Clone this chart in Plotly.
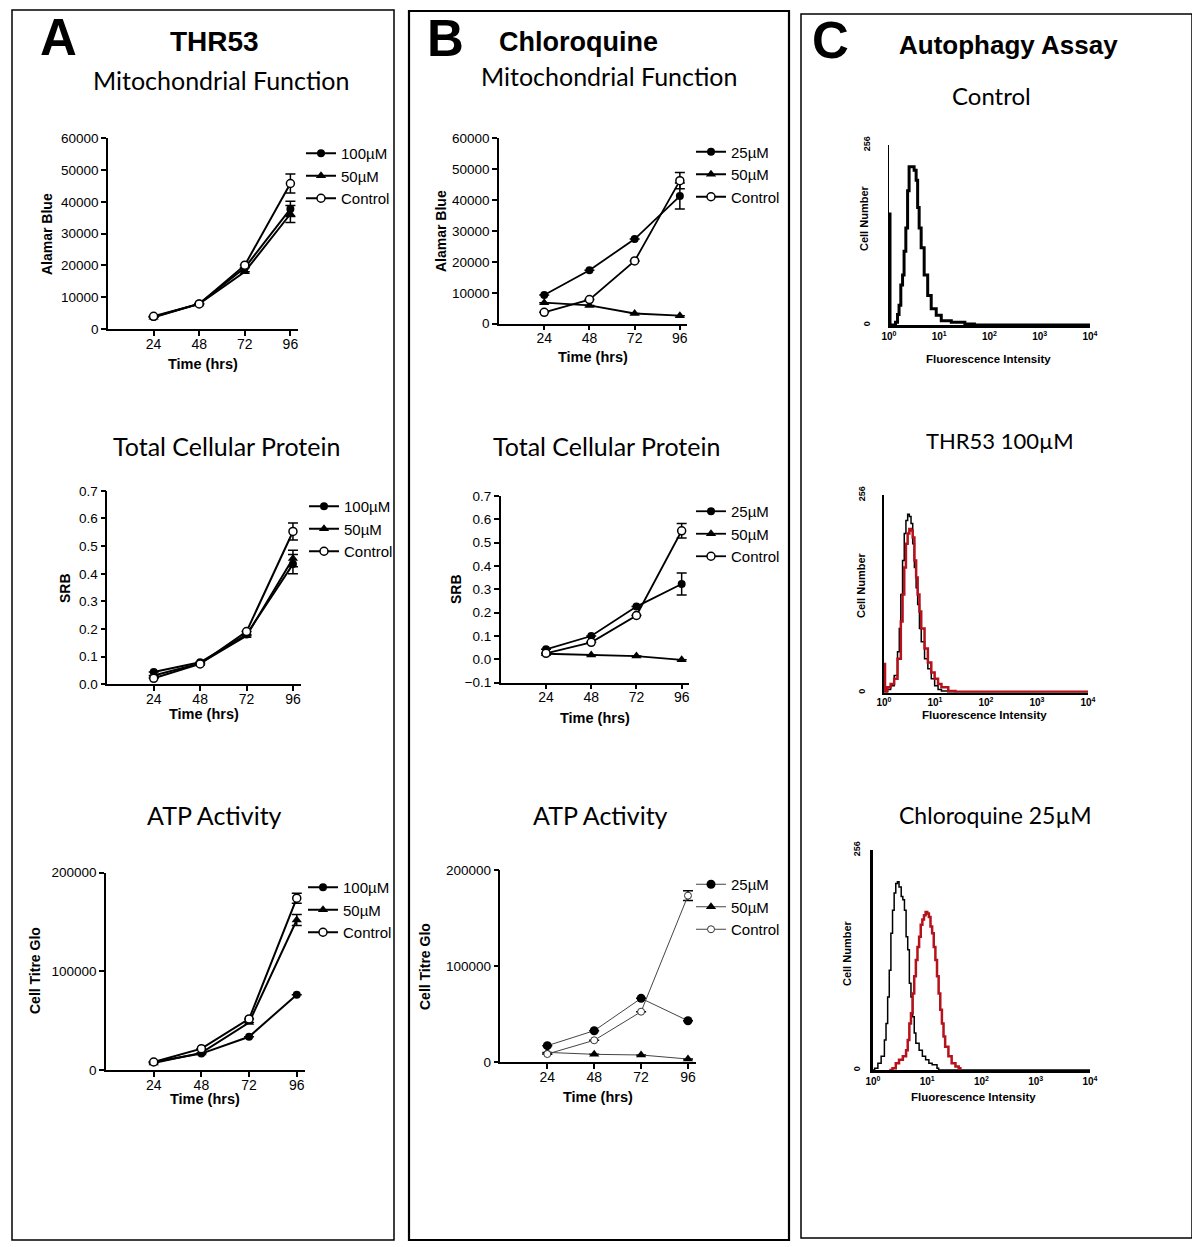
import plotly.graph_objects as go

W, H = 1200, 1247
ARIAL = "Liberation Sans, Arial, sans-serif"
CALIBRI = "Lato, Open Sans, sans-serif"
PAGE_OFFSET = 8  # the page places the figure 8 px in from the top-left corner

# ---------------- data ----------------
HOURS = [24, 48, 72, 96]
A_NAMES = ["100µM", "50µM", "Control"]
B_NAMES = ["25µM", "50µM", "Control"]

# Panel A : THR53
A_ALAMAR_100 = [3800, 8000, 19300, 37800]
A_ALAMAR_50 = [3700, 7900, 18000, 36200]
A_ALAMAR_CTRL = [4000, 7900, 20100, 45800]
A_ALAMAR_100_ERR = [None, None, None, 2400]
A_ALAMAR_50_ERR = [None, None, None, 2700]
A_ALAMAR_CTRL_ERR = [None, None, None, 3000]

A_SRB_100 = [0.045, 0.080, 0.180, 0.435]
A_SRB_50 = [0.032, 0.076, 0.176, 0.455]
A_SRB_CTRL = [0.022, 0.074, 0.191, 0.553]
A_SRB_100_ERR = [None, None, None, 0.035]
A_SRB_50_ERR = [None, None, None, 0.030]
A_SRB_CTRL_ERR = [None, None, None, 0.031]

A_ATP_100 = [8500, 17000, 34000, 76500]
A_ATP_50 = [7500, 17700, 48300, 152000]
A_ATP_CTRL = [8500, 22000, 52000, 174000]
A_ATP_100_ERR = [None, None, None, None]
A_ATP_50_ERR = [None, None, None, 5500]
A_ATP_CTRL_ERR = [None, None, None, 5000]

# Panel B : Chloroquine
B_ALAMAR_25 = [9300, 17300, 27400, 41300]
B_ALAMAR_50 = [6800, 5900, 3300, 2600]
B_ALAMAR_CTRL = [3700, 7800, 20300, 46300]
B_ALAMAR_25_ERR = [None, None, None, 4200]
B_ALAMAR_50_ERR = [None, None, None, None]
B_ALAMAR_CTRL_ERR = [None, None, None, 2600]

B_SRB_25 = [0.043, 0.100, 0.226, 0.323]
B_SRB_50 = [0.024, 0.019, 0.014, -0.002]
B_SRB_CTRL = [0.026, 0.073, 0.188, 0.551]
B_SRB_25_ERR = [None, None, None, 0.047]
B_SRB_50_ERR = [None, None, None, None]
B_SRB_CTRL_ERR = [None, None, None, 0.031]

B_ATP_25 = [17000, 32600, 66300, 43000]
B_ATP_50 = [10000, 8000, 7300, 3100]
B_ATP_CTRL = [8300, 22600, 52400, 173300]
B_ATP_25_ERR = [None, None, None, None]
B_ATP_50_ERR = [None, None, None, None]
B_ATP_CTRL_ERR = [None, None, None, 5000]

# Panel C : flow cytometry histograms (log10 fluorescence, cell count)
C1_CTRL_LOG = [0.0, 0.0, 0.02, 0.13, 0.17, 0.20, 0.235, 0.27, 0.30, 0.335, 0.37, 0.40, 0.47, 0.50,
               0.54, 0.57, 0.60, 0.64, 0.70, 0.77, 0.84, 0.94, 1.04, 1.24, 1.51, 1.70, 4.0]
C1_CTRL_CNT = [0, 158, 0, 4, 15, 28, 57, 71, 105, 138, 191, 225, 225, 220,
               206, 167, 138, 110, 71, 42, 23, 14, 6, 4, 1.5, 0, 0]

C2_CTRL_LOG = [0.0, 0.0, 0.02, 0.066, 0.13, 0.2, 0.265, 0.3, 0.33, 0.364, 0.397, 0.43, 0.464, 0.497,
               0.53, 0.563, 0.596, 0.63, 0.66, 0.695, 0.73, 0.795, 0.86, 0.927, 0.993, 1.06, 1.126, 1.25, 4.0]
C2_CTRL_CNT = [0, 35, 0, 4, 9, 22, 53, 83, 127, 171, 206, 223, 231, 228,
               219, 193, 162, 136, 114, 83, 66, 44, 31, 18, 9, 4, 2, 0, 0]
C2_THR_LOG = [0.0, 0.0, 0.02, 0.066, 0.13, 0.2, 0.265, 0.33, 0.364, 0.397, 0.43, 0.464, 0.497, 0.53,
              0.563, 0.596, 0.63, 0.66, 0.695, 0.73, 0.795, 0.86, 0.927, 0.993, 1.06, 1.126, 1.26, 1.4, 4.0]
C2_THR_CNT = [0, 37, 0, 7, 11, 18, 44, 92, 127, 162, 193, 206, 212, 210,
              201, 171, 149, 127, 105, 83, 57, 39, 26, 18, 11, 7, 2, 1, 1]

C3_CTRL_LOG = [0.0, 0.03, 0.09, 0.15, 0.21, 0.24, 0.27, 0.30, 0.33, 0.36, 0.39, 0.42, 0.45, 0.48, 0.52,
               0.55, 0.58, 0.61, 0.64, 0.67, 0.70, 0.73, 0.76, 0.79, 0.85, 0.91, 0.97, 1.03, 1.09, 1.18,
               1.21, 4.0]
C3_CTRL_CNT = [0, 2, 8, 16, 35, 54, 85, 116, 159, 186, 206, 217, 219, 213, 202,
               198, 186, 155, 140, 101, 85, 62, 43, 31, 23, 16, 12, 8, 6, 2,
               0, 0]
C3_CQ_LOG = [0.30, 0.36, 0.42, 0.48, 0.55, 0.61, 0.64, 0.67, 0.70, 0.73, 0.76, 0.79, 0.82, 0.85, 0.88,
             0.91, 0.94, 0.97, 1.00, 1.03, 1.06, 1.09, 1.12, 1.15, 1.18, 1.21, 1.24, 1.27, 1.30, 1.33,
             1.39, 1.45, 1.52, 1.58, 1.61]
C3_CQ_CNT = [0, 2, 8, 12, 16, 23, 35, 54, 66, 89, 109, 128, 143, 155, 169,
             175, 180, 184, 182, 178, 167, 159, 143, 128, 109, 89, 70, 54, 39, 27,
             16, 8, 4, 2, 0]

DECADES = [0, 1, 2, 3, 4]
DECADE_TEXT = ["<b>10<sup>0</sup></b>", "<b>10<sup>1</sup></b>", "<b>10<sup>2</sup></b>",
               "<b>10<sup>3</sup></b>", "<b>10<sup>4</sup></b>"]
HIST_TICKS = [0, 256]
HIST_TICK_TEXT = ["<b>0</b>", "<b>256</b>"]
RED = "#B5121B"


def fx(p):
    return (p - PAGE_OFFSET) / W


def fy(p):
    return 1 - (p - PAGE_OFFSET) / H


def sfx(n):
    return "" if n == 1 else str(n)


fig = go.Figure()
layout = {}

MARKERS = [
    dict(symbol="circle", size=8, color="black"),
    dict(symbol="triangle-up", size=9, color="black"),
    dict(symbol="circle", size=8, color="white", line=dict(color="black", width=1.5)),
]


def line_panel(n, series, errs, names, legend, lw=2.0, lc="black", markers=MARKERS):
    for vals, err, name, mk in zip(series, errs, names, markers):
        fig.add_trace(go.Scatter(
            x=HOURS, y=vals, name=name, mode="lines+markers",
            line=dict(color=lc, width=lw), marker=mk,
            error_y=dict(type="data", array=err, visible=True, color="black", thickness=1.5, width=5),
            xaxis="x" + sfx(n), yaxis="y" + sfx(n), legend=legend, cliponaxis=False))


def line_axes(n, left, right, top, bottom, yrange, dtick, fmt):
    s = sfx(n)
    layout["xaxis" + s] = dict(
        domain=[fx(left), fx(right)], range=[0, 100], tickvals=HOURS, anchor="y" + s,
        ticks="outside", ticklen=5, tickwidth=1.5, tickcolor="black", ticklabelstandoff=-4,
        showline=True, linewidth=1.5, linecolor="black", showgrid=False, zeroline=False,
        automargin=False, tickfont=dict(family=ARIAL, size=14, color="black"))
    layout["yaxis" + s] = dict(
        domain=[fy(bottom), fy(top)], range=yrange, dtick=dtick, tick0=0, tickformat=fmt,
        anchor="x" + s, ticks="outside", ticklen=5, tickwidth=1.5, tickcolor="black",
        showline=True, linewidth=1.5, linecolor="black", showgrid=False, zeroline=False,
        automargin=False, tickfont=dict(family=ARIAL, size=13.5, color="black"))


def hist_axes(n, left, right, top, bottom, xlw, ylw, standoff):
    s = sfx(n)
    layout["xaxis" + s] = dict(
        domain=[fx(left), fx(right)], range=[0, 4], tickvals=DECADES, ticktext=DECADE_TEXT,
        anchor="y" + s, ticks="", showline=True, linewidth=xlw, linecolor="black",
        showgrid=False, zeroline=False, automargin=False,
        tickfont=dict(family=ARIAL, size=10, color="black"))
    layout["yaxis" + s] = dict(
        domain=[fy(bottom), fy(top)], range=[0, 256], tickvals=HIST_TICKS, ticktext=HIST_TICK_TEXT,
        tickangle=-90, anchor="x" + s, ticks="", showline=True, linewidth=ylw, linecolor="black",
        showgrid=False, zeroline=False, ticklabelstandoff=standoff, automargin=False,
        tickfont=dict(family=ARIAL, size=9, color="black"))


def hist_trace(n, xs, ys, color, width):
    s = sfx(n)
    fig.add_trace(go.Scatter(x=xs, y=ys, mode="lines", line=dict(color=color, width=width, shape="hv"),
                             showlegend=False, xaxis="x" + s, yaxis="y" + s, cliponaxis=False))


# ---- Panel A ----
line_panel(1, [A_ALAMAR_100, A_ALAMAR_50, A_ALAMAR_CTRL],
           [A_ALAMAR_100_ERR, A_ALAMAR_50_ERR, A_ALAMAR_CTRL_ERR], A_NAMES, "legend")
line_axes(1, 108, 298, 138.4, 329, [0, 60000], 10000, "d")

line_panel(2, [A_SRB_100, A_SRB_50, A_SRB_CTRL],
           [A_SRB_100_ERR, A_SRB_50_ERR, A_SRB_CTRL_ERR], A_NAMES, "legend2")
line_axes(2, 107.3, 300.7, 490.8, 684.4, [0, 0.7], 0.1, ".1f")

line_panel(3, [A_ATP_100, A_ATP_50, A_ATP_CTRL],
           [A_ATP_100_ERR, A_ATP_50_ERR, A_ATP_CTRL_ERR], A_NAMES, "legend3")
line_axes(3, 106, 304.7, 872.5, 1070.4, [0, 200000], 100000, "d")

# ---- Panel B ----
line_panel(4, [B_ALAMAR_25, B_ALAMAR_50, B_ALAMAR_CTRL],
           [B_ALAMAR_25_ERR, B_ALAMAR_50_ERR, B_ALAMAR_CTRL_ERR], B_NAMES, "legend4", lw=1.8)
line_axes(4, 499, 687.4, 138.3, 323.7, [0, 60000], 10000, "d")

line_panel(5, [B_SRB_25, B_SRB_50, B_SRB_CTRL],
           [B_SRB_25_ERR, B_SRB_50_ERR, B_SRB_CTRL_ERR], B_NAMES, "legend5", lw=1.8)
line_axes(5, 500.8, 689.2, 496, 682.7, [-0.1, 0.7], 0.1, ".1f")

THIN_MARKERS = [
    dict(symbol="circle", size=9, color="black"),
    dict(symbol="triangle-up", size=9, color="black"),
    dict(symbol="circle", size=7, color="white", line=dict(color="#333333", width=1)),
]
line_panel(6, [B_ATP_25, B_ATP_50, B_ATP_CTRL],
           [B_ATP_25_ERR, B_ATP_50_ERR, B_ATP_CTRL_ERR], B_NAMES, "legend6",
           lw=1.0, lc="#444444", markers=THIN_MARKERS)
line_axes(6, 500.4, 695.8, 870, 1062, [0, 200000], 100000, "d")

# ---- Panel C ----
hist_trace(7, C1_CTRL_LOG, C1_CTRL_CNT, "black", 3)
hist_axes(7, 889, 1090, 145, 325, 3, 1, 14)

hist_trace(8, C2_CTRL_LOG, C2_CTRL_CNT, "black", 1.5)
hist_trace(8, C2_THR_LOG, C2_THR_CNT, RED, 2.5)
hist_axes(8, 884, 1088, 495, 692.6, 1.5, 1.5, 14)

hist_trace(9, C3_CTRL_LOG, C3_CTRL_CNT, "black", 1.5)
hist_trace(9, C3_CQ_LOG, C3_CQ_CNT, RED, 2.5)
hist_axes(9, 873, 1090, 850, 1070, 3, 3, 6)


# ---- legends ----
def legend_at(xp, yp):
    return dict(x=fx(xp), y=fy(yp), xanchor="left", yanchor="top", bgcolor="rgba(0,0,0,0)",
                borderwidth=0, itemwidth=30, tracegroupgap=0, traceorder="normal",
                font=dict(family=ARIAL, size=15, color="black"))


layout["legend"] = legend_at(301, 137)
layout["legend2"] = legend_at(304, 490)
layout["legend3"] = legend_at(303, 871)
layout["legend4"] = legend_at(691, 135.5)
layout["legend5"] = legend_at(691, 495)
layout["legend6"] = legend_at(691, 868)

# ---- text ----
ann = []


def text(xp, yp, s, size, family=ARIAL, angle=0):
    ann.append(dict(x=fx(xp), y=fy(yp), xref="paper", yref="paper", text=s, showarrow=False,
                    xanchor="center", yanchor="middle", textangle=angle,
                    font=dict(family=family, size=size, color="black")))


text(58, 37, "<b>A</b>", 51)
text(445, 38, "<b>B</b>", 51)
text(830, 40, "<b>C</b>", 51)
text(215, 42, "<b>THR53</b>", 28)
text(578, 42, "<b>Chloroquine</b>", 27)
text(1009, 45, "<b>Autophagy Assay</b>", 26)

text(221, 80, "Mitochondrial Function", 25, CALIBRI)
text(609, 76, "Mitochondrial Function", 25, CALIBRI)
text(991, 95, "Control", 24, CALIBRI)
text(226, 446, "Total Cellular Protein", 25, CALIBRI)
text(606, 446, "Total Cellular Protein", 25, CALIBRI)
text(1000, 440, "THR53 100µM", 22, CALIBRI)
text(214, 815, "ATP Activity", 25, CALIBRI)
text(600, 815, "ATP Activity", 25, CALIBRI)
text(995, 815, "Chloroquine 25µM", 23, CALIBRI)

# axis titles
text(47, 234, "<b>Alamar Blue</b>", 14, angle=-90)
text(65, 588, "<b>SRB</b>", 14, angle=-90)
text(35, 971, "<b>Cell Titre Glo</b>", 14, angle=-90)
text(441, 231, "<b>Alamar Blue</b>", 14, angle=-90)
text(456, 589, "<b>SRB</b>", 14, angle=-90)
text(425, 966, "<b>Cell Titre Glo</b>", 14, angle=-90)
text(203, 364, "<b>Time (hrs)</b>", 14.5)
text(204, 714, "<b>Time (hrs)</b>", 14.5)
text(205, 1099, "<b>Time (hrs)</b>", 14.5)
text(593, 357, "<b>Time (hrs)</b>", 14.5)
text(595, 718, "<b>Time (hrs)</b>", 14.5)
text(598, 1097, "<b>Time (hrs)</b>", 14.5)

text(864, 218, "<b>Cell Number</b>", 11, angle=-90)
text(988, 359, "<b>Fluorescence Intensity</b>", 11.5)
text(861, 585, "<b>Cell Number</b>", 11, angle=-90)
text(984, 715, "<b>Fluorescence Intensity</b>", 11.5)
text(847, 953, "<b>Cell Number</b>", 11, angle=-90)
text(973, 1097, "<b>Fluorescence Intensity</b>", 11.5)

# ---- panel frames ----
shapes = []
for (x0, y0, x1, y1, w) in [(12, 10, 394, 1240, 1.5), (409, 11, 789, 1240, 2.2), (801, 14, 1192, 1238, 1.5)]:
    shapes.append(dict(type="rect", xref="paper", yref="paper", x0=fx(x0), x1=fx(x1), y0=fy(y1), y1=fy(y0),
                       line=dict(color="black", width=w)))

fig.update_layout(**layout)
fig.update_layout(
    width=W, height=H, margin=dict(l=0, r=0, t=0, b=0, pad=0, autoexpand=False),
    paper_bgcolor="white", plot_bgcolor="white",
    annotations=ann, shapes=shapes, showlegend=True,
)

fig.write_html("out.html")
